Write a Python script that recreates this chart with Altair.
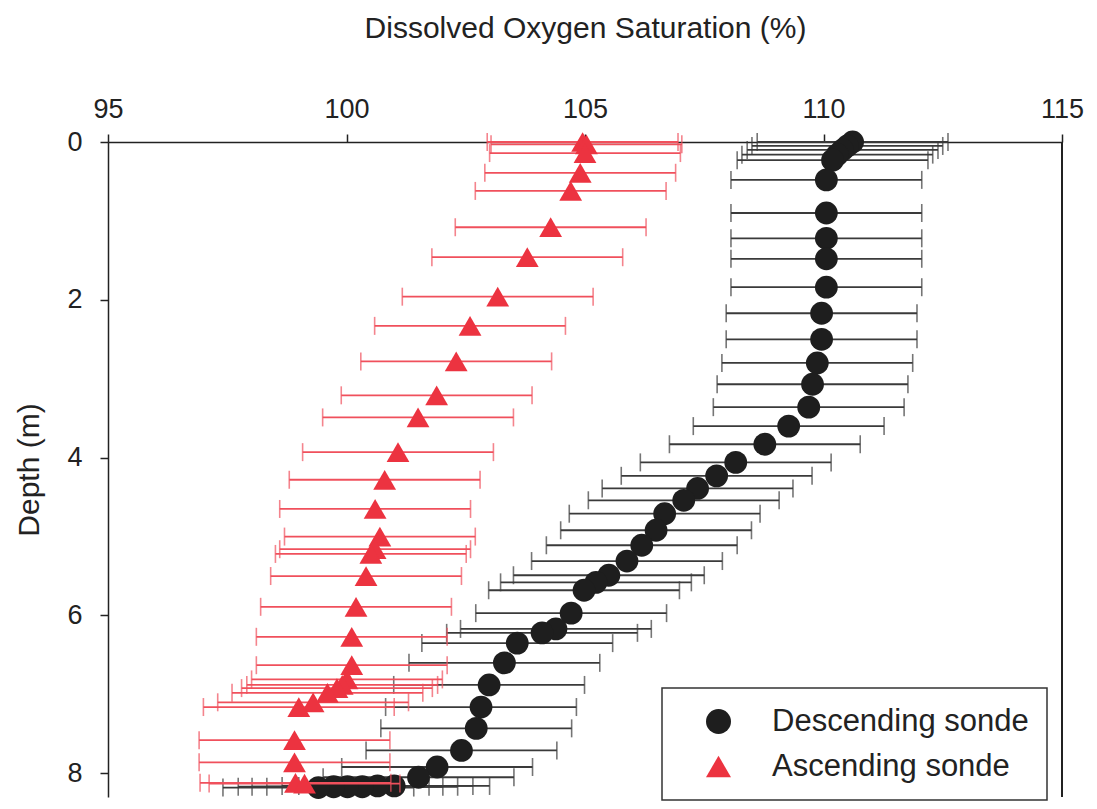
import altair as alt
import pandas as pd

# Descending sonde (black circles): depth (m), DO saturation (%), error (±)
desc_depth = [0.00, 0.05, 0.10, 0.16, 0.23, 0.48, 0.90, 1.22, 1.48, 1.84,
              2.17, 2.50, 2.80, 3.07, 3.36, 3.60, 3.83, 4.06, 4.23, 4.39,
              4.54, 4.71, 4.92, 5.11, 5.31, 5.49, 5.58, 5.68, 5.97, 6.17,
              6.22, 6.35, 6.60, 6.88, 7.16, 7.43, 7.71, 7.92, 8.05,
              8.16, 8.16, 8.17, 8.17, 8.17, 8.18]
desc_value = [110.61, 110.50, 110.40, 110.29, 110.19, 110.06, 110.06, 110.06, 110.06, 110.06,
              109.96, 109.96, 109.87, 109.77, 109.69, 109.27, 108.77, 108.16, 107.76, 107.36,
              107.07, 106.67, 106.49, 106.19, 105.88, 105.50, 105.23, 104.98, 104.71, 104.39,
              104.10, 103.58, 103.31, 102.99, 102.82, 102.72, 102.41, 101.90, 101.51,
              101.00, 100.65, 100.33, 100.02, 99.73, 99.41]
desc_sd = [2.0] * len(desc_value)

# Ascending sonde (red triangles)
asc_depth = [0.00, 0.03, 0.14, 0.39, 0.62, 1.08, 1.46, 1.96, 2.33, 2.78,
             3.21, 3.49, 3.93, 4.28, 4.65, 5.00, 5.16, 5.22, 5.50, 5.89,
             6.27, 6.63, 6.81, 6.88, 6.92, 6.98, 7.10, 7.16, 7.58, 7.86,
             8.12, 8.13]
asc_value = [104.95, 105.03, 105.00, 104.90, 104.70, 104.28, 103.79, 103.17, 102.59, 102.30,
             101.89, 101.50, 101.08, 100.80, 100.60, 100.70, 100.60, 100.51, 100.41, 100.20,
             100.11, 100.11, 100.01, 99.91, 99.80, 99.60, 99.30, 99.00, 98.91, 98.91,
             98.93, 99.12]
asc_sd = [2.0] * len(asc_value)

series_names = ["Descending sonde", "Ascending sonde"]
x_ticks = [95, 100, 105, 110, 115]
y_ticks = [0, 2, 4, 6, 8]

df = pd.concat([
    pd.DataFrame({"series": series_names[0], "depth": desc_depth, "value": desc_value, "sd": desc_sd}),
    pd.DataFrame({"series": series_names[1], "depth": asc_depth, "value": asc_value, "sd": asc_sd}),
], ignore_index=True)

FONT = "Liberation Sans"
W, H = 954, 655
BLACK_PT = "#1e1e1e"
BLACK_BAR = "#3a3a3a"
RED_PT = "#ec3340"
RED_BAR = "#f0505c"

xscale = alt.Scale(domain=[95, 115], nice=False, zero=False)
yscale = alt.Scale(domain=[0, 8.30], nice=False, zero=False, reverse=True)

x_axis = alt.Axis(orient="top", values=x_ticks, title="Dissolved Oxygen Saturation (%)",
                  labelFontSize=27, titleFontSize=30, tickSize=8, labelPadding=11,
                  titlePadding=52, grid=False, labelFlush=False)
y_axis = alt.Axis(orient="left", values=y_ticks, title="Depth (m)",
                  labelFontSize=27, titleFontSize=30, tickSize=8, labelPadding=18,
                  titlePadding=22, grid=False, labelFlush=False)

base = alt.Chart(df).transform_calculate(
    lo="datum.value - datum.sd", hi="datum.value + datum.sd"
)


def bars(name, color):
    sub = base.transform_filter(alt.datum.series == name)
    rule = sub.mark_rule(color=color, strokeWidth=1.8).encode(
        x=alt.X("lo:Q", scale=xscale, axis=x_axis),
        x2="hi:Q",
        y=alt.Y("depth:Q", scale=yscale, axis=y_axis),
    )
    caps = sub.transform_fold(["lo", "hi"], as_=["end", "xv"]).mark_tick(
        color=color, orient="vertical", size=18, thickness=1.6
    ).encode(
        x=alt.X("xv:Q", scale=xscale, axis=x_axis),
        y=alt.Y("depth:Q", scale=yscale, axis=y_axis),
    )
    return rule + caps


points = base.mark_point(filled=True, opacity=1, size=520, strokeWidth=0).encode(
    x=alt.X("value:Q", scale=xscale, axis=x_axis),
    y=alt.Y("depth:Q", scale=yscale, axis=y_axis),
    color=alt.Color("series:N", scale=alt.Scale(domain=series_names, range=[BLACK_PT, RED_PT]),
                    legend=alt.Legend(title=None)),
    shape=alt.Shape("series:N", scale=alt.Scale(domain=series_names, range=["circle", "triangle-up"]),
                    legend=alt.Legend(title=None)),
)

desc_pts = points.transform_filter(alt.datum.series == series_names[0])
asc_pts = points.transform_filter(alt.datum.series == series_names[1])

frame = alt.Chart(df).mark_rule(color="#222", strokeWidth=1.5).encode(
    x=alt.value(W), y=alt.value(0), y2=alt.value(H)
)

chart = alt.layer(
    bars(series_names[0], BLACK_BAR),
    desc_pts,
    bars(series_names[1], RED_BAR),
    asc_pts,
    frame,
).properties(
    width=W, height=H,
    autosize=alt.AutoSizeParams(type="none"),
    padding={"left": 100, "top": 134, "right": 27, "bottom": 4},
).configure_view(
    stroke=None
).configure_axis(
    labelFont=FONT, titleFont=FONT, labelColor="#222", titleColor="#222",
    titleFontWeight="normal", domainColor="#222", tickColor="#222",
    domainWidth=1.5, tickWidth=1.5,
).configure_legend(
    orient="none", legendX=554, legendY=546, padding=18,
    strokeColor="#333", fillColor="white", strokeWidth=1.5,
    labelFont=FONT, labelFontSize=31, labelColor="#222", labelLimit=400,
    symbolSize=625, symbolOffset=23, labelOffset=38, rowPadding=13,
    symbolStrokeWidth=0,
)

chart.save("out.html", embed_options={"renderer": "svg", "actions": False})
